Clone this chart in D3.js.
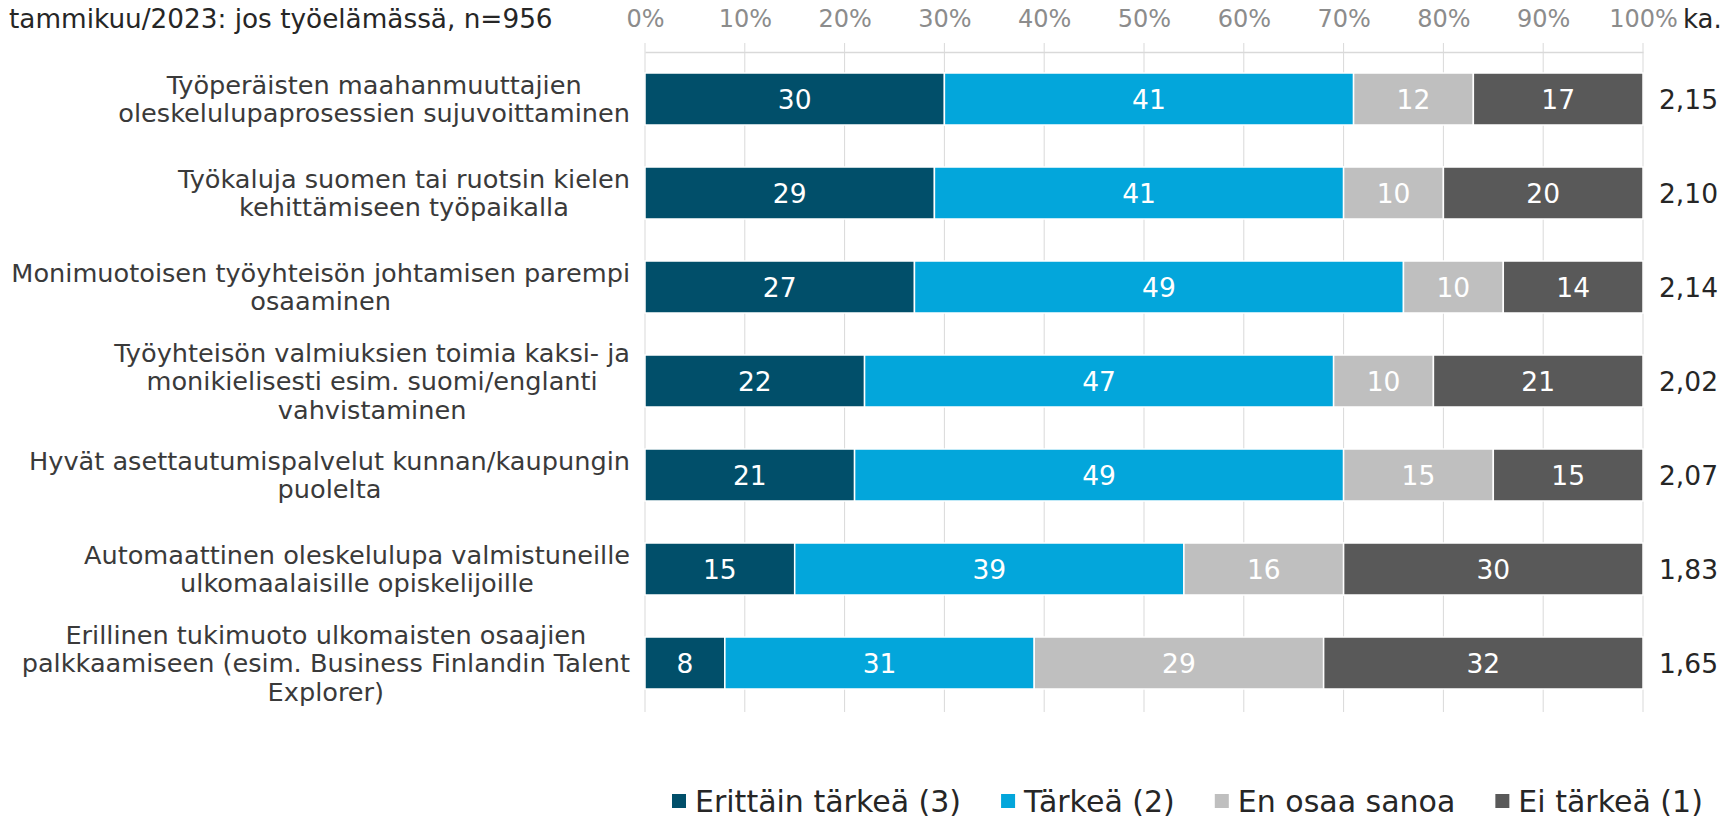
<!DOCTYPE html>
<html>
<head>
<meta charset="utf-8">
<script src="https://cdn.jsdelivr.net/npm/d3@7"></script>
<style>
body { margin: 0; background: #fff; }
svg { font-family: Verdana, "DejaVu Sans", sans-serif; }
</style>
</head>
<body>
<svg id="chart"></svg>
<script>
// kysymykset (rivitys kuten kuvassa)
const categories = [
    ["Työperäisten maahanmuuttajien", "oleskelulupaprosessien sujuvoittaminen"],
    ["Työkaluja suomen tai ruotsin kielen", "kehittämiseen työpaikalla"],
    ["Monimuotoisen työyhteisön johtamisen parempi", "osaaminen"],
    ["Työyhteisön valmiuksien toimia kaksi- ja", "monikielisesti esim. suomi/englanti", "vahvistaminen"],
    ["Hyvät asettautumispalvelut kunnan/kaupungin", "puolelta"],
    ["Automaattinen oleskelulupa valmistuneille", "ulkomaalaisille opiskelijoille"],
    ["Erillinen tukimuoto ulkomaisten osaajien", "palkkaamiseen (esim. Business Finlandin Talent", "Explorer)"]
]
const seriesNames = ["Erittäin tärkeä (3)", "Tärkeä (2)", "En osaa sanoa", "Ei tärkeä (1)"]
const erittainTarkea = [30, 29, 27, 22, 21, 15, 8]
const tarkea = [41, 41, 49, 47, 49, 39, 31]
const enOsaa = [12, 10, 10, 10, 15, 16, 29]
const eiTarkea = [17, 20, 14, 21, 15, 30, 32]
const keskiarvo = ["2,15", "2,10", "2,14", "2,02", "2,07", "1,83", "1,65"]
const tickValues = [0, 10, 20, 30, 40, 50, 60, 70, 80, 90, 100]
const title = "tammikuu/2023: jos työelämässä, n=956"

var width = 1732,
height = 819

const svg = d3.select("#chart")
.attr("width", width)
.attr("height", height)

const color = d3.scaleOrdinal(seriesNames, ["#014F6A", "#03A6DB", "#BFBFBF", "#595959"])

// taulukko pinottavaksi
const rows = categories.map((c, i) => ({
    i: i,
    "Erittäin tärkeä (3)": erittainTarkea[i],
    "Tärkeä (2)": tarkea[i],
    "En osaa sanoa": enOsaa[i],
    "Ei tärkeä (1)": eiTarkea[i]
}))
const stacked = d3.stack().keys(seriesNames)(rows)

const x = d3.scaleLinear().domain([0, 100]).range([645, 1643])
const y = d3.scaleBand().domain(d3.range(categories.length)).range([52, 710])
    .paddingInner(0.447).paddingOuter(0.2235)

// gridlines
svg.append("g")
    .selectAll("line")
    .data(tickValues)
    .join("line")
    .attr("x1", d => x(d)).attr("x2", d => x(d))
    .attr("y1", 43).attr("y2", 712)
    .attr("stroke", "#d9d9d9")
    .attr("stroke-width", 1)

// akseli ylhäällä
const axis = svg.append("g")
    .attr("transform", "translate(0,52)")
    .call(d3.axisTop(x).tickValues(tickValues).tickFormat(d => d + "%").tickSize(0).tickPadding(25))
axis.select(".domain").attr("stroke", "#d9d9d9").attr("stroke-width", 1.5)
axis.selectAll("text")
    .attr("fill", "#8c8c8c")
    .style("font-size", "24px")
    .style("font-family", "Verdana, 'DejaVu Sans', sans-serif")

svg.append("text")
    .attr("x", 1683).attr("y", 28)
    .attr("fill", "#262626")
    .style("font-size", "26px")
    .text("ka.")

svg.append("text")
    .attr("x", 9).attr("y", 28)
    .attr("fill", "#262626")
    .style("font-size", "26.3px")
    .text(title)

// palkit
const layers = svg.append("g")
    .selectAll("g")
    .data(stacked)
    .join("g")
    .attr("fill", d => color(d.key))

layers.selectAll("rect")
    .data(d => d)
    .join("rect")
    .attr("x", d => x(d[0]))
    .attr("y", d => y(d.data.i))
    .attr("width", d => x(d[1]) - x(d[0]))
    .attr("height", y.bandwidth())
    .attr("stroke", "#fff")
    .attr("stroke-width", 1.5)

layers.selectAll("text")
    .data(d => d)
    .join("text")
    .attr("x", d => (x(d[0]) + x(d[1])) / 2)
    .attr("y", d => y(d.data.i) + y.bandwidth() / 2)
    .attr("dy", "0.36em")
    .attr("text-anchor", "middle")
    .attr("fill", "#fff")
    .style("font-size", "26.5px")
    .text(d => d[1] - d[0])

// keskiarvot
svg.append("g")
    .selectAll("text")
    .data(keskiarvo)
    .join("text")
    .attr("x", 1659)
    .attr("y", (d, i) => y(i) + y.bandwidth() / 2)
    .attr("dy", "0.36em")
    .attr("fill", "#262626")
    .style("font-size", "26.5px")
    .text(d => d)

// kysymysten tekstit, rivit keskitetty oikealle tasattuun lohkoon
const lineH = 28.3
const labels = svg.append("g")
    .selectAll("g")
    .data(categories)
    .join("g")
labels.each(function (lines, i) {
    const g = d3.select(this)
    const cy = y(i) + y.bandwidth() / 2
    const t = g.selectAll("text")
        .data(lines)
        .join("text")
        .attr("y", (d, k) => cy + (k - (lines.length - 1) / 2) * lineH)
        .attr("dy", "0.36em")
        .attr("text-anchor", "middle")
        .attr("fill", "#3a3a3a")
        .style("font-size", "25.6px")
        .text(d => d)
    let maxW = 0
    t.each(function () { maxW = Math.max(maxW, this.getComputedTextLength()) })
    t.attr("x", 630 - maxW / 2)
})

// selite
const legend = svg.append("g").attr("transform", "translate(672,801)")
let lx = 0
seriesNames.forEach(name => {
    const item = legend.append("g").attr("transform", `translate(${lx},0)`)
    item.append("rect")
        .attr("x", 0).attr("y", -7)
        .attr("width", 14).attr("height", 14)
        .attr("fill", color(name))
    const txt = item.append("text")
        .attr("x", 23)
        .attr("dy", "0.36em")
        .attr("fill", "#262626")
        .style("font-size", "30px")
        .text(name)
    lx += 23 + txt.node().getComputedTextLength() + 40
})
</script>
</body>
</html>
